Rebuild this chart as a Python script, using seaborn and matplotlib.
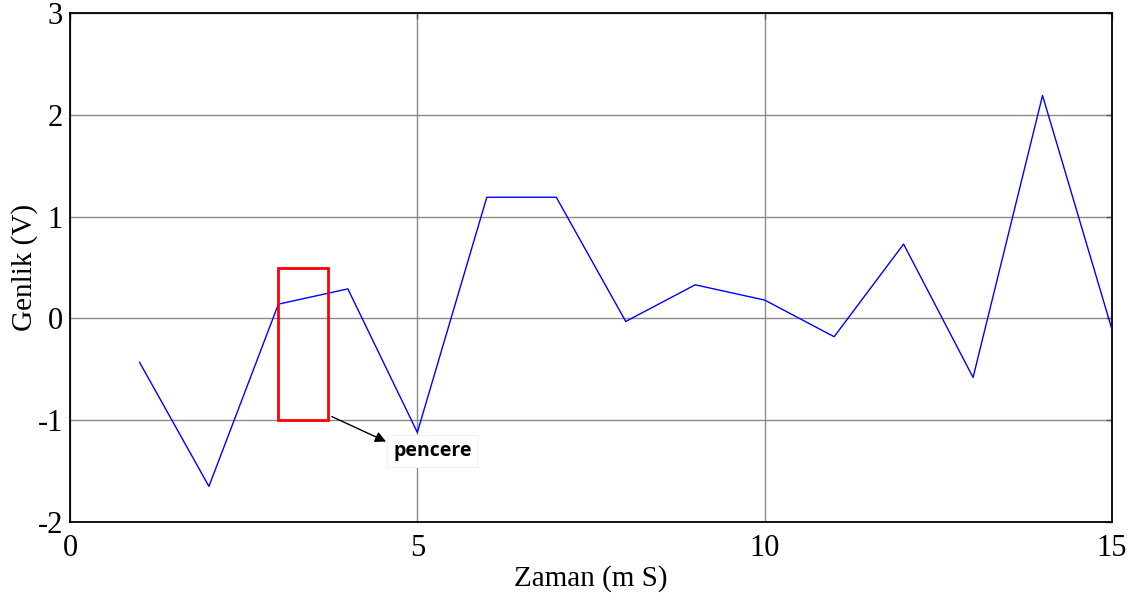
import matplotlib
matplotlib.use("Agg")
import matplotlib.pyplot as plt
import matplotlib.patches as mpatches
import seaborn as sns
import pandas as pd

# Sampled signal
zaman = [1, 2, 3, 4, 5, 6, 7, 8, 9, 10, 11, 12, 13, 14, 15]
genlik = [-0.43, -1.65, 0.14, 0.29, -1.12, 1.19, 1.19, -0.03, 0.33, 0.18,
          -0.18, 0.73, -0.58, 2.19, -0.11]

# Window marker (x start, width, y bottom, height)
pencere_x = [3.0, 0.72]
pencere_y = [-1.0, 1.5]

x_ticks = [0, 5, 10, 15]
y_ticks = [-2, -1, 0, 1, 2, 3]

sns.set_style("white")
plt.rcParams["font.family"] = ["Liberation Serif", "DejaVu Serif"]
plt.rcParams["text.color"] = "black"
plt.rcParams["axes.labelcolor"] = "black"
plt.rcParams["xtick.color"] = "black"
plt.rcParams["ytick.color"] = "black"

fig = plt.figure(figsize=(11.38, 6.01), dpi=100)
ax = fig.add_axes([70 / 1138, 1 - 522 / 601, (1112 - 70) / 1138, (522 - 13) / 601])

df = pd.DataFrame({"Zaman": zaman, "Genlik": genlik})
sns.lineplot(data=df, x="Zaman", y="Genlik", ax=ax, color="#0000ff",
             linewidth=1.0, zorder=3)

ax.set_xlim(0, 15)
ax.set_ylim(-2, 3)
ax.set_xticks(x_ticks)
ax.set_yticks(y_ticks)
ax.set_xticklabels([str(t) for t in x_ticks])
ax.set_yticklabels([str(t) for t in y_ticks])
ax.grid(True, color="#8a8a8a", linewidth=1.0, zorder=1)
ax.tick_params(direction="in", length=4, width=1, color="#555555",
               labelcolor="black", labelsize=22, top=True, right=True, pad=5)
ax.tick_params(axis="x", pad=9)
for s in ax.spines.values():
    s.set_color("black")
    s.set_linewidth(1.3)
    s.set_visible(True)

ax.set_xlabel("Zaman (m S)", fontsize=21, labelpad=1, color="black")
ax.set_ylabel("Genlik (V)", fontsize=21, labelpad=0, color="black")

rect = mpatches.Rectangle((pencere_x[0], pencere_y[0]), pencere_x[1], pencere_y[1],
                          fill=False, edgecolor="#ff0000", linewidth=2, zorder=4)
ax.add_patch(rect)

# Arrow pointing from the window to its label
ax.annotate("", xy=(4.55, -1.21), xytext=(3.77, -0.965), zorder=5,
            arrowprops=dict(arrowstyle="-|>", color="black", lw=1.0,
                            mutation_scale=16, shrinkA=0, shrinkB=0),
            annotation_clip=False)
ax.text(4.65, -1.3, "pencere", fontsize=14, fontweight="bold", color="black",
        family=["Open Sans", "DejaVu Sans"], ha="left", va="center", zorder=6,
        bbox=dict(boxstyle="square,pad=0.3", facecolor="white",
                  edgecolor="#f0f0f0", linewidth=0.8))

fig.savefig("out.png", dpi=100)
